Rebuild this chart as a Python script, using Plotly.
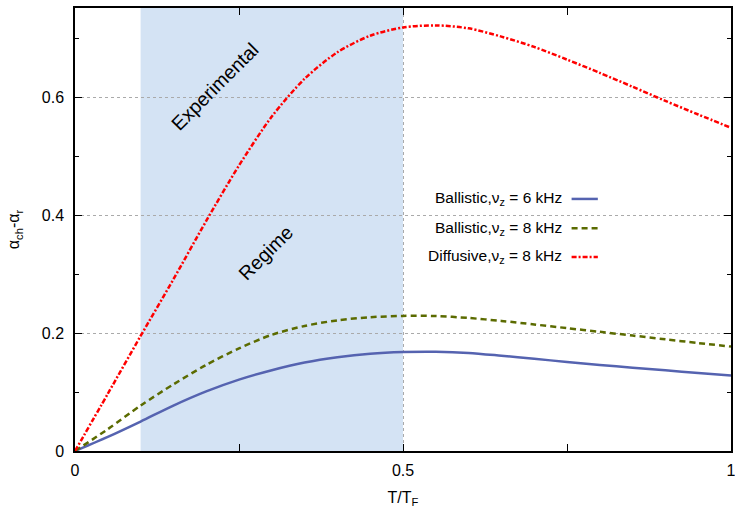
import plotly.graph_objects as go

# Data
t_over_tf = [0, 0.05, 0.1, 0.15, 0.2, 0.25, 0.3, 0.35, 0.4, 0.45, 0.5,
             0.55, 0.6, 0.65, 0.7, 0.75, 0.8, 0.85, 0.9, 0.95, 1.0]
ballistic_6khz = [0, 0.024, 0.050, 0.077, 0.101, 0.121, 0.137, 0.150, 0.159, 0.1650, 0.1678,
                  0.1683, 0.1663, 0.1615, 0.1563, 0.1510, 0.1460, 0.1412, 0.1367, 0.1322, 0.128]
ballistic_8khz = [0, 0.037, 0.077, 0.113, 0.146, 0.174, 0.197, 0.212, 0.2215, 0.2268, 0.2290,
                  0.2288, 0.2255, 0.2205, 0.2145, 0.2083, 0.2020, 0.1957, 0.1893, 0.1830, 0.177]
diffusive_8khz = [0, 0.097, 0.195, 0.291, 0.390, 0.484, 0.567, 0.631, 0.676, 0.704, 0.718,
                  0.7215, 0.7165, 0.7025, 0.6850, 0.6635, 0.6410, 0.6175, 0.5935, 0.5705, 0.548]

series_names = ["Ballistic,ν<sub>z</sub> = 6 kHz",
                "Ballistic,ν<sub>z</sub> = 8 kHz",
                "Diffusive,ν<sub>z</sub> = 8 kHz"]
regime_range = [0.1, 0.5]

x_ticks = [0, 0.5, 1]
x_tick_labels = ["0", "0.5", "1"]
y_ticks = [0, 0.2, 0.4, 0.6]
y_tick_labels = ["0", "0.2", "0.4", "0.6"]

colors = ["#5563b0", "#5b6b00", "#ff0000"]
dashes = ["solid", "6px,4px", "5px,2px,2px,2px"]
series = [ballistic_6khz, ballistic_8khz, diffusive_8khz]

FONT = "Liberation Sans, Arial, Helvetica, sans-serif"

fig = go.Figure()
for name, ys, c, d in zip(series_names, series, colors, dashes):
    fig.add_trace(go.Scatter(x=t_over_tf, y=ys, mode="lines", name=name,
                             line=dict(color=c, width=2.5, dash=d, shape="spline", smoothing=0.8),
                             showlegend=False, hoverinfo="skip"))

# Shaded experimental regime
fig.add_shape(type="rect", xref="x", yref="paper", x0=regime_range[0], x1=regime_range[1],
              y0=0, y1=1, fillcolor="#d4e3f4", line=dict(width=0), layer="below")

# Manual legend (text left of sample, gnuplot style)
leg_y = [0.569, 0.503, 0.438]
for name, c, d, yy in zip(series_names, colors, dashes, leg_y):
    fig.add_annotation(xref="paper", yref="paper", x=0.745, y=yy, text=name,
                       showarrow=False, xanchor="right", yanchor="middle",
                       font=dict(family=FONT, size=15.5, color="black"))
    fig.add_shape(type="line", xref="paper", yref="paper", x0=0.757, x1=0.797,
                  y0=yy, y1=yy, line=dict(color=c, width=2.5, dash=d))

fig.add_annotation(x=0.214, y=0.618, text="Experimental", textangle=-45, showarrow=False,
                   font=dict(family=FONT, size=19.5, color="black"))
fig.add_annotation(x=0.290, y=0.336, text="Regime", textangle=-45, showarrow=False,
                   font=dict(family=FONT, size=19.5, color="black"))

fig.update_xaxes(range=[0, 1], tickvals=x_ticks, ticktext=x_tick_labels,
                 ticks="inside", ticklen=7, tickcolor="black", tickwidth=1,
                 showline=True, linecolor="black", linewidth=1.5, mirror="ticks",
                 showgrid=True, gridcolor="#aaaaaa", griddash="dot", gridwidth=1,
                 zeroline=False, automargin=False, ticklabelstandoff=4,
                 ticklabeloverflow="allow",
                 minor=dict(dtick=0.25, ticks="inside", ticklen=7, tickcolor="black", showgrid=False),
                 tickfont=dict(family=FONT, size=16, color="black"),
                 title=dict(text="T/T<sub>F</sub>", font=dict(family=FONT, size=16, color="black"),
                            standoff=14))
fig.update_yaxes(range=[0, 0.751], tickvals=y_ticks, ticktext=y_tick_labels,
                 ticks="inside", ticklen=7, tickcolor="black", tickwidth=1,
                 showline=True, linecolor="black", linewidth=1.5, mirror="ticks",
                 showgrid=True, gridcolor="#aaaaaa", griddash="dot", gridwidth=1,
                 zeroline=False, automargin=False, ticklabelstandoff=6,
                 ticklabeloverflow="allow",
                 minor=dict(dtick=0.1, ticks="inside", ticklen=4, tickcolor="black", showgrid=False),
                 tickfont=dict(family=FONT, size=16, color="black"),
                 title=dict(text="α<sub>ch</sub>-α<sub>r</sub>", font=dict(family=FONT, size=16, color="black"),
                            standoff=18))

fig.update_layout(width=735, height=508, margin=dict(l=75, r=4, t=8, b=57),
                  plot_bgcolor="white", paper_bgcolor="white", showlegend=False,
                  hovermode=False)

fig.write_html("out.html", config={"displayModeBar": False},
               post_script="document.body.style.margin='0';")
